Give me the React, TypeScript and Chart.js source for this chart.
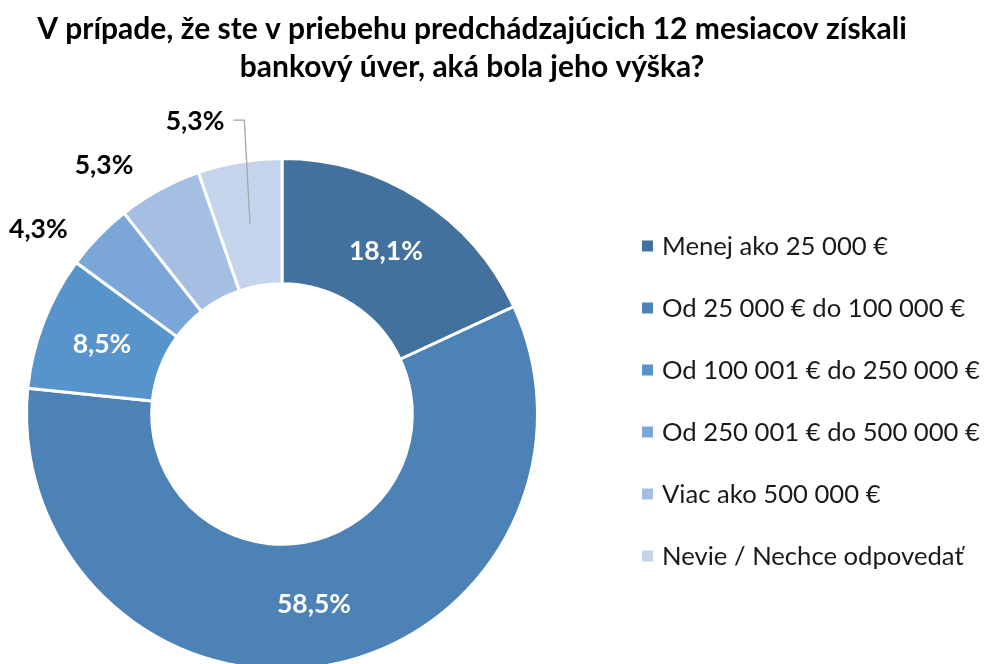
import React, { useEffect, useRef } from "react";
import { Chart, registerables } from "chart.js";

Chart.register(...registerables);

const titleLines = [
  "V prípade, že ste v priebehu predchádzajúcich 12 mesiacov získali",
  "bankový úver, aká bola jeho výška?",
];
const categories = [
  "Menej ako 25 000 €",
  "Od 25 000 € do 100 000 €",
  "Od 100 001 € do 250 000 €",
  "Od 250 001 € do 500 000 €",
  "Viac ako 500 000 €",
  "Nevie / Nechce odpovedať",
];
const values = [18.1, 58.5, 8.5, 4.3, 5.3, 5.3];
const colors = ["#41719C", "#4C82B5", "#5794CB", "#7BA7D8", "#A4BFE2", "#C3D4EB"];
const insideLabel = [true, true, true, false, false, false];
const leaderLabel = [false, false, false, false, false, true];

const FONT = "Lato, 'Open Sans', sans-serif";

function fitSize(ctx: CanvasRenderingContext2D, text: string, weight: string, target: number) {
  ctx.font = `${weight} 100px ${FONT}`;
  const w = ctx.measureText(text).width;
  return (100 * target) / w;
}

const fmt = (v: number) => v.toFixed(1).replace(".", ",") + "%";

const textPlugin = {
  id: "textPlugin",
  afterDraw(chart: any) {
    const ctx: CanvasRenderingContext2D = chart.ctx;
    ctx.save();
    // Title
    const ts = fitSize(ctx, titleLines[0], "bold", 870);
    ctx.font = `bold ${ts}px ${FONT}`;
    ctx.fillStyle = "#000000";
    ctx.textAlign = "center";
    ctx.textBaseline = "alphabetic";
    ctx.fillText(titleLines[0], 472, 39);
    ctx.fillText(titleLines[1], 472, 77);

    // Legend
    const ls = fitSize(ctx, categories[2], "normal", 318);
    ctx.font = `normal ${ls}px ${FONT}`;
    ctx.textAlign = "left";
    ctx.textBaseline = "middle";
    categories.forEach((c, i) => {
      const cy = 246 + i * 62;
      ctx.fillStyle = colors[i];
      ctx.fillRect(642, cy - 5.5, 11, 11);
      ctx.fillStyle = "#1a1a1a";
      ctx.fillText(c, 662, cy + 1);
    });

    // Data labels
    const ds = fitSize(ctx, "18,1%", "bold", 74);
    ctx.font = `bold ${ds}px ${FONT}`;
    ctx.textAlign = "center";
    ctx.textBaseline = "middle";
    const meta = chart.getDatasetMeta(0);
    meta.data.forEach((arc: any, i: number) => {
      const p = arc.getProps(["x", "y", "startAngle", "endAngle", "outerRadius", "innerRadius"], true);
      const mid = (p.startAngle + p.endAngle) / 2;
      const cr = (p.outerRadius + p.innerRadius) / 2;
      const cx = p.x + Math.cos(mid) * cr;
      const cy = p.y + Math.sin(mid) * cr;
      const txt = fmt(values[i]);
      if (insideLabel[i]) {
        ctx.fillStyle = "#ffffff";
        ctx.fillText(txt, cx, cy);
      } else {
        const a = mid - (7 * Math.PI) / 180;
        const r = p.outerRadius + 50;
        const lx = p.x + Math.cos(a) * r;
        const ly = p.y + Math.sin(a) * r;
        ctx.fillStyle = "#000000";
        ctx.fillText(txt, lx, ly);
        if (leaderLabel[i]) {
          const hw = ctx.measureText(txt).width / 2;
          ctx.strokeStyle = "#A6A6A6";
          ctx.lineWidth = 1.3;
          ctx.beginPath();
          ctx.moveTo(lx + hw + 9, ly - 1);
          ctx.lineTo(lx + hw + 20, ly - 1);
          ctx.lineTo(cx, cy);
          ctx.stroke();
        }
      }
    });
    ctx.restore();
  },
};

export default function App() {
  const ref = useRef<HTMLCanvasElement>(null);
  useEffect(() => {
    if (!ref.current) return;
    document.body.style.margin = "0";
    const chart = new Chart(ref.current, {
      type: "doughnut",
      data: {
        labels: categories,
        datasets: [
          {
            data: values,
            backgroundColor: colors,
            borderColor: "#ffffff",
            borderWidth: 3,
            hoverOffset: 0,
          },
        ],
      },
      options: {
        responsive: false,
        animation: false,
        cutout: "51%",
        rotation: 0,
        layout: { padding: { left: 25, right: 445, top: 157, bottom: 9 } },
        plugins: {
          legend: { display: false },
          title: { display: false },
          tooltip: { enabled: false },
        },
      },
      plugins: [textPlugin],
    });
    return () => chart.destroy();
  }, []);
  return (
    <div style={{ position: "absolute", left: 0, top: 0, width: 984, height: 664, overflow: "hidden", background: "#fff" }}>
      <canvas ref={ref} width={984} height={680} style={{ display: "block" }} />
    </div>
  );
}
